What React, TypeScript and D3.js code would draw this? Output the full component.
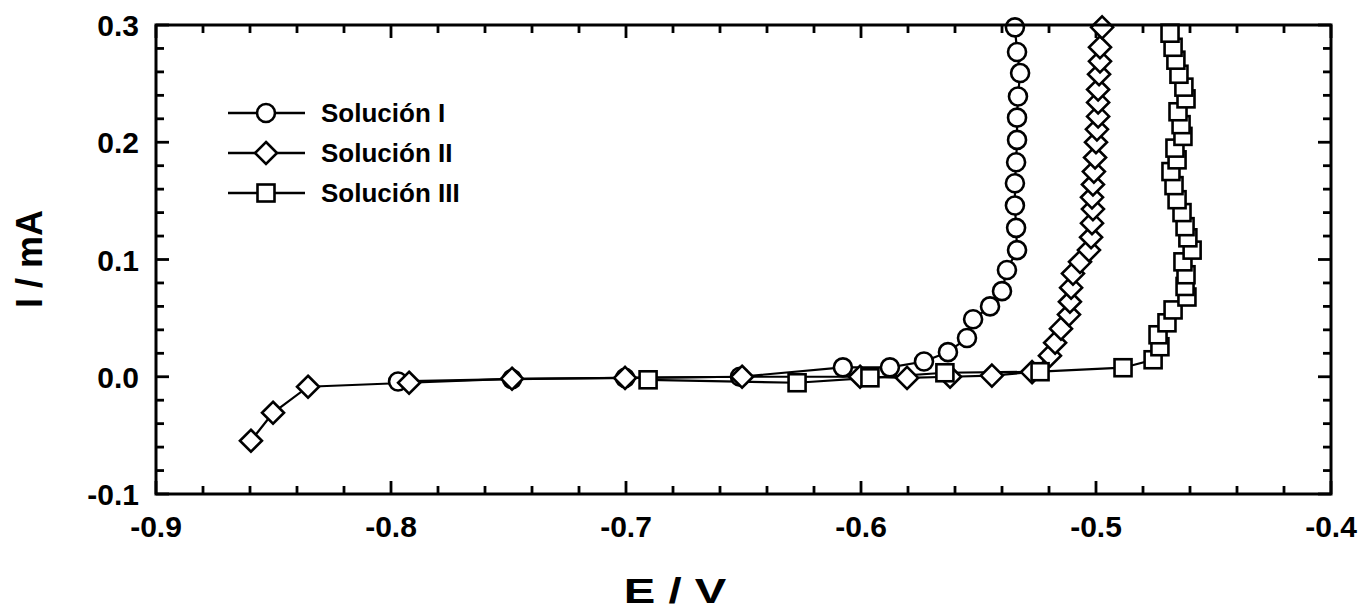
import React from "react";
import * as d3 from "d3";

// ---- Data (E / V, I / mA) ----
const sol1E = [-0.797, -0.7485, -0.7004, -0.6515, -0.6077, -0.5877, -0.5732, -0.563, -0.5549, -0.5523, -0.5451, -0.54, -0.5379, -0.5336, -0.534, -0.5345, -0.5345, -0.534, -0.5336, -0.5336, -0.5332, -0.5323, -0.5336, -0.5345];
const sol1I = [-0.004, -0.002, -0.001, 0.0, 0.008, 0.008, 0.013, 0.021, 0.033, 0.049, 0.06, 0.073, 0.091, 0.108, 0.127, 0.146, 0.165, 0.183, 0.202, 0.221, 0.239, 0.259, 0.277, 0.298];

const sol2E = [-0.8596, -0.8502, -0.8353, -0.7923, -0.7485, -0.7004, -0.6506, -0.6004, -0.5804, -0.5621, -0.5443, -0.5272, -0.5196, -0.5174, -0.5149, -0.5115, -0.5111, -0.5106, -0.5098, -0.5068, -0.503, -0.5021, -0.5017, -0.5013, -0.5017, -0.5013, -0.5009, -0.5004, -0.5, -0.4996, -0.4991, -0.4991, -0.4991, -0.4987, -0.4983, -0.4983, -0.4974];
const sol2I = [-0.0546, -0.0307, -0.0085, -0.0051, -0.0017, -0.001, 0.0, 0.0, -0.001, 0.0, 0.001, 0.004, 0.018, 0.029, 0.041, 0.053, 0.064, 0.076, 0.088, 0.098, 0.108, 0.119, 0.131, 0.143, 0.153, 0.164, 0.175, 0.187, 0.2, 0.211, 0.222, 0.234, 0.245, 0.258, 0.269, 0.281, 0.298];

const sol3E = [-0.6906, -0.6272, -0.5962, -0.5643, -0.5238, -0.4885, -0.4757, -0.4728, -0.4736, -0.4698, -0.4672, -0.4613, -0.4621, -0.4617, -0.463, -0.4591, -0.4609, -0.4621, -0.4634, -0.4655, -0.4668, -0.4681, -0.4655, -0.4664, -0.463, -0.4638, -0.4651, -0.4617, -0.4626, -0.4647, -0.466, -0.4672, -0.4685];
const sol3I = [-0.0026, -0.0051, -0.0009, 0.0034, 0.0043, 0.0077, 0.0145, 0.0256, 0.0358, 0.046, 0.057, 0.068, 0.077, 0.087, 0.098, 0.108, 0.1185, 0.128, 0.14, 0.151, 0.163, 0.175, 0.185, 0.195, 0.205, 0.215, 0.226, 0.237, 0.247, 0.258, 0.27, 0.281, 0.293];

const seriesNames = ["Solución I", "Solución II", "Solución III"];
const seriesMarkers = ["circle", "diamond", "square"];
const xTicks = [-0.9, -0.8, -0.7, -0.6, -0.5, -0.4];
const yTicks = [-0.1, 0.0, 0.1, 0.2, 0.3];
const xTitle = "E / V";
const yTitle = "I / mA";

const W = 1361, H = 614;
const M = { left: 156, top: 25, right: 1331, bottom: 494 };
const FONT = "'Liberation Sans', Arial, sans-serif";
const fmt = (v: number) => v.toFixed(1).replace("\u2212", "-");

function Marker({ type, x, y }: { type: string; x: number; y: number }) {
  const sw = 2.6;
  if (type === "circle") return <circle cx={x} cy={y} r={9} fill="#fff" stroke="#000" strokeWidth={sw} />;
  if (type === "diamond") {
    const r = 11;
    return <path d={`M${x},${y - r}L${x + r},${y}L${x},${y + r}L${x - r},${y}Z`} fill="#fff" stroke="#000" strokeWidth={sw} strokeLinejoin="miter" />;
  }
  const s = 8.5;
  return <rect x={x - s} y={y - s} width={2 * s} height={2 * s} fill="#fff" stroke="#000" strokeWidth={sw} />;
}

export default function App() {
  const x = d3.scaleLinear().domain([-0.9, -0.4]).range([M.left, M.right]);
  const y = d3.scaleLinear().domain([-0.1, 0.3]).range([M.bottom, M.top]);
  const line = d3.line<[number, number]>().x(d => x(d[0])).y(d => y(d[1]));

  const series = [
    sol1E.map((e, i) => [e, sol1I[i]] as [number, number]),
    sol2E.map((e, i) => [e, sol2I[i]] as [number, number]),
    sol3E.map((e, i) => [e, sol3I[i]] as [number, number]),
  ];

  const xMinor = d3.range(-0.9, -0.4 + 1e-9, 0.02);
  const yMinor = d3.range(-0.1, 0.3 + 1e-9, 0.02);
  const majorLen = 13, minorLen = 8;
  const isMajor = (v: number) => Math.abs(v * 10 - Math.round(v * 10)) < 1e-6;

  return (
    <svg width={W} height={H} style={{ position: "absolute", left: 0, top: 0, background: "#fff" }} fontFamily={FONT}>
      <rect width={W} height={H} fill="#fff" />
      {/* ticks */}
      <g stroke="#000" strokeWidth={2.8}>
        {xMinor.map((v, i) => {
          const L = isMajor(v) ? majorLen : minorLen;
          const px = x(v);
          return (
            <g key={"xt" + i}>
              <line x1={px} x2={px} y1={M.bottom} y2={M.bottom - L} />
              <line x1={px} x2={px} y1={M.top} y2={M.top + L} />
            </g>
          );
        })}
        {yMinor.map((v, i) => {
          const L = isMajor(v) ? majorLen : minorLen;
          const py = y(v);
          return (
            <g key={"yt" + i}>
              <line x1={M.left} x2={M.left + L} y1={py} y2={py} />
              <line x1={M.right} x2={M.right - L} y1={py} y2={py} />
            </g>
          );
        })}
      </g>
      {/* series lines */}
      {series.map((s, k) => (
        <path key={"l" + k} d={line(s) || ""} fill="none" stroke="#000" strokeWidth={2.2} />
      ))}
      {/* markers */}
      {series.map((s, k) => (
        <g key={"m" + k}>
          {s.map((d, i) => (
            <Marker key={i} type={seriesMarkers[k]} x={x(d[0])} y={y(d[1])} />
          ))}
        </g>
      ))}
      {/* frame */}
      <rect x={M.left} y={M.top} width={M.right - M.left} height={M.bottom - M.top} fill="none" stroke="#000" strokeWidth={3} />
      {/* tick labels */}
      <g fontSize={30} fontWeight="bold" fill="#000">
        {xTicks.map((v, i) => (
          <text key={"xl" + i} x={x(v)} y={537} textAnchor="middle">{fmt(v)}</text>
        ))}
        {yTicks.map((v, i) => (
          <text key={"yl" + i} x={139} y={y(v) + 11} textAnchor="end">{fmt(v)}</text>
        ))}
      </g>
      {/* axis titles */}
      <text transform="translate(675,603) scale(1.35,1)" textAnchor="middle" fontSize={35} fontWeight="bold">{xTitle}</text>
      <text transform={`translate(42,259) rotate(-90)`} textAnchor="middle" fontSize={36} fontWeight="bold">{yTitle}</text>
      {/* legend */}
      <g>
        {seriesNames.map((n, i) => {
          const ly = 113 + i * 40;
          return (
            <g key={"lg" + i}>
              <line x1={228} x2={305} y1={ly} y2={ly} stroke="#000" strokeWidth={2.5} />
              <Marker type={seriesMarkers[i]} x={266} y={ly} />
              <text x={321} y={ly + 9} fontSize={26} fontWeight="bold">{n}</text>
            </g>
          );
        })}
      </g>
    </svg>
  );
}
